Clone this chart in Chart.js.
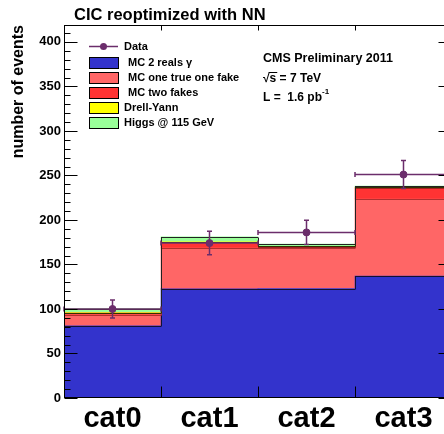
<!DOCTYPE html>
<html>
<head>
<meta charset="utf-8">
<script src="https://cdn.jsdelivr.net/npm/chart.js@4.4.0/dist/chart.umd.min.js"></script>
<style>
	html, body { margin: 0; padding: 0; background: #fff; overflow: hidden; }
	#wrap { width: 444px; height: 434px; overflow: hidden; }
	canvas { display: block; }
</style>
</head>
<body>
<div id="wrap"><canvas id="myChart" width="460" height="434"></canvas></div>
<script>
const categories = ['cat0', 'cat1', 'cat2', 'cat3'];
const mcTwoReals = [81, 122.5, 123, 137];
const mcOneTrueOneFake = [12.5, 46, 45.5, 86.5];
const mcTwoFakes = [2, 6.5, 1.5, 12.5];
const drellYann = [0.4, 0.4, 0.4, 0.5];
const higgs115 = [4.6, 5.6, 2.6, 1.5];
const dataCounts = [100, 174, 186, 251];
const dataErrors = [10, 13.2, 13.6, 15.8];

const FONT = "'Liberation Sans', Arial, Helvetica, sans-serif";
const DATA_COLOR = '#6b2d6b';

const stackSeries = [
	{ label: 'MC 2 reals γ', data: mcTwoReals, fill: '#3333cc', line: '#111133' },
	{ label: 'MC one true one fake', data: mcOneTrueOneFake, fill: '#ff6666', line: '#b03030' },
	{ label: 'MC two fakes', data: mcTwoFakes, fill: '#ff3333', line: '#a02020' },
	{ label: 'Drell-Yann', data: drellYann, fill: '#ffff00', line: '#333300' },
	{ label: 'Higgs @ 115 GeV', data: higgs115, fill: '#99ff99', line: '#222222' },
];

Chart.defaults.font.family = FONT;

// histogram outlines, error bars (drawn just before the data markers)
const histPlugin = {
	id: 'histPlugin',
	beforeDatasetDraw(chart, args) {
		if (args.index !== stackSeries.length) return;
		const ctx = chart.ctx;
		const y = chart.scales.y;
		ctx.save();
		ctx.lineWidth = 1;
		stackSeries.forEach((s, di) => {
			const bars = chart.getDatasetMeta(di).data;
			ctx.strokeStyle = s.line;
			ctx.beginPath();
			bars.forEach((b, i) => {
				const p = b.getProps(['x', 'y', 'width'], true);
				const yy = Math.round(p.y) + 0.5;
				ctx.moveTo(p.x - p.width / 2, yy);
				ctx.lineTo(p.x + p.width / 2, yy);
				if (i < bars.length - 1) {
					const n = bars[i + 1].getProps(['x', 'y', 'width'], true);
					const xx = Math.round(p.x + p.width / 2) + 0.5;
					ctx.moveTo(xx, yy);
					ctx.lineTo(xx, Math.round(n.y) + 0.5);
				}
			});
			ctx.stroke();
		});

		// data error bars
		const pts = chart.getDatasetMeta(stackSeries.length).data;
		const bar0 = chart.getDatasetMeta(0).data[0].getProps(['width'], true);
		const half = bar0.width / 2;
		ctx.strokeStyle = DATA_COLOR;
		ctx.lineWidth = 1.5;
		ctx.beginPath();
		pts.forEach((pt, i) => {
			const x = pt.x;
			const yc = pt.y;
			const yHi = y.getPixelForValue(dataCounts[i] + dataErrors[i]);
			const yLo = y.getPixelForValue(dataCounts[i] - dataErrors[i]);
			ctx.moveTo(x, yHi); ctx.lineTo(x, yLo);
			ctx.moveTo(x - 2.5, yHi); ctx.lineTo(x + 2.5, yHi);
			ctx.moveTo(x - 2.5, yLo); ctx.lineTo(x + 2.5, yLo);
			ctx.moveTo(x - half, yc); ctx.lineTo(x + half, yc);
			ctx.moveTo(x - half, yc - 2.5); ctx.lineTo(x - half, yc + 2.5);
			ctx.moveTo(x + half, yc - 2.5); ctx.lineTo(x + half, yc + 2.5);
		});
		ctx.stroke();
		ctx.restore();
	},
	afterDatasetsDraw(chart) {
		// frame and inward ticks
		const ctx = chart.ctx;
		const a = chart.chartArea;
		const y = chart.scales.y;
		const x = chart.scales.x;
		ctx.save();
		ctx.strokeStyle = '#000';
		ctx.lineWidth = 1;
		const L = Math.round(a.left) + 0.5, R = Math.round(a.right) - 0.5;
		const T = Math.round(a.top) + 0.5, B = Math.round(a.bottom) - 0.5;
		ctx.strokeRect(L, T, R - L, B - T);
		ctx.beginPath();
		for (let v = y.min; v <= y.max; v += 10) {
			const yy = Math.round(y.getPixelForValue(v)) + 0.5;
			const len = v % 50 === 0 ? 13 : 6;
			ctx.moveTo(L, yy); ctx.lineTo(L + len, yy);
			ctx.moveTo(R, yy); ctx.lineTo(R - len, yy);
		}
		for (let i = 0; i < categories.length - 1; i++) {
			const xx = Math.round((x.getPixelForValue(i) + x.getPixelForValue(i + 1)) / 2) + 0.5;
			ctx.moveTo(xx, B); ctx.lineTo(xx, B - 11);
			ctx.moveTo(xx, T); ctx.lineTo(xx, T + 5);
		}
		ctx.stroke();
		ctx.restore();
	},
	afterDraw(chart) {
		const ctx = chart.ctx;
		ctx.save();
		ctx.fillStyle = '#000';
		ctx.textBaseline = 'middle';

		// title
		ctx.font = `bold 16.5px ${FONT}`;
		ctx.textAlign = 'left';
		ctx.fillText('CIC reoptimized with NN', 74, 15);

		// y axis title
		ctx.save();
		ctx.translate(19, 25);
		ctx.rotate(-Math.PI / 2);
		ctx.textAlign = 'right';
		ctx.font = `bold 16px ${FONT}`;
		ctx.fillText('number of events', 0, 0);
		ctx.restore();

		// legend
		ctx.font = `bold 11px ${FONT}`;
		ctx.strokeStyle = DATA_COLOR;
		ctx.lineWidth = 1.5;
		ctx.beginPath();
		ctx.moveTo(89, 46.5); ctx.lineTo(118, 46.5);
		ctx.stroke();
		ctx.fillStyle = DATA_COLOR;
		ctx.beginPath();
		ctx.arc(103.5, 46.5, 3.5, 0, Math.PI * 2);
		ctx.fill();
		ctx.fillStyle = '#000';
		ctx.fillText('Data', 124, 47);
		stackSeries.forEach((s, i) => {
			const top = 57 + i * 15.1;
			ctx.fillStyle = s.fill;
			ctx.fillRect(89, top, 29, 11);
			ctx.strokeStyle = '#000';
			ctx.lineWidth = 1;
			ctx.strokeRect(89.5, Math.round(top) + 0.5, 29, 11);
			ctx.fillStyle = '#000';
			ctx.fillText(s.label, i < 3 ? 128 : 124, top + 6);
		});

		// CMS labels
		ctx.font = `bold 12.5px ${FONT}`;
		ctx.fillText('CMS Preliminary 2011', 263, 59);
		ctx.font = `bold 12px ${FONT}`;
		ctx.fillText('√s = 7 TeV', 263, 79);
		const wRad = ctx.measureText('√').width;
		const wS = ctx.measureText('√s').width;
		ctx.strokeStyle = '#000';
		ctx.lineWidth = 1;
		ctx.beginPath();
		ctx.moveTo(263 + wRad - 1, 72.5); ctx.lineTo(263 + wS + 1, 72.5);
		ctx.stroke();
		ctx.fillText('L =  1.6 pb', 263, 98);
		const wL = ctx.measureText('L =  1.6 pb').width;
		ctx.font = `bold 8px ${FONT}`;
		ctx.fillText('-1', 263 + wL, 92);
		ctx.restore();
	},
};

const ctx = document.getElementById('myChart').getContext('2d');
const myChart = new Chart(ctx, {
	type: 'bar',
	data: {
		labels: categories,
		datasets: [
			...stackSeries.map((s) => ({
				label: s.label,
				data: s.data,
				backgroundColor: s.fill,
				borderWidth: 0,
				categoryPercentage: 1,
				barPercentage: 1,
				order: 1,
			})),
			{
				type: 'line',
				label: 'Data',
				data: dataCounts,
				stack: 'data',
				showLine: false,
				pointRadius: 3.5,
				pointBackgroundColor: DATA_COLOR,
				pointBorderColor: DATA_COLOR,
				order: 0,
			},
		],
	},
	options: {
		responsive: false,
		animation: false,
		devicePixelRatio: 1,
		layout: { padding: { left: 0, top: 25, right: 8, bottom: 0 } },
		plugins: {
			legend: { display: false },
			tooltip: { enabled: false },
		},
		scales: {
			x: {
				stacked: true,
				offset: true,
				grid: { display: false, drawTicks: false },
				border: { display: false },
				ticks: {
					color: '#000',
					padding: 4,
					maxRotation: 0,
					autoSkip: false,
					font: { size: 29, weight: 'bold' },
				},
				afterFit: (scale) => { scale.height = 36; },
			},
			y: {
				stacked: true,
				min: 0,
				max: 419,
				grid: { display: false, drawTicks: false },
				border: { display: false },
				ticks: {
					stepSize: 50,
					includeBounds: false,
					color: '#000',
					padding: 3,
					font: { size: 13, weight: 'bold' },
				},
				afterFit: (scale) => { scale.width = 64; },
			},
		},
	},
	plugins: [histPlugin],
});
</script>
</body>
</html>
